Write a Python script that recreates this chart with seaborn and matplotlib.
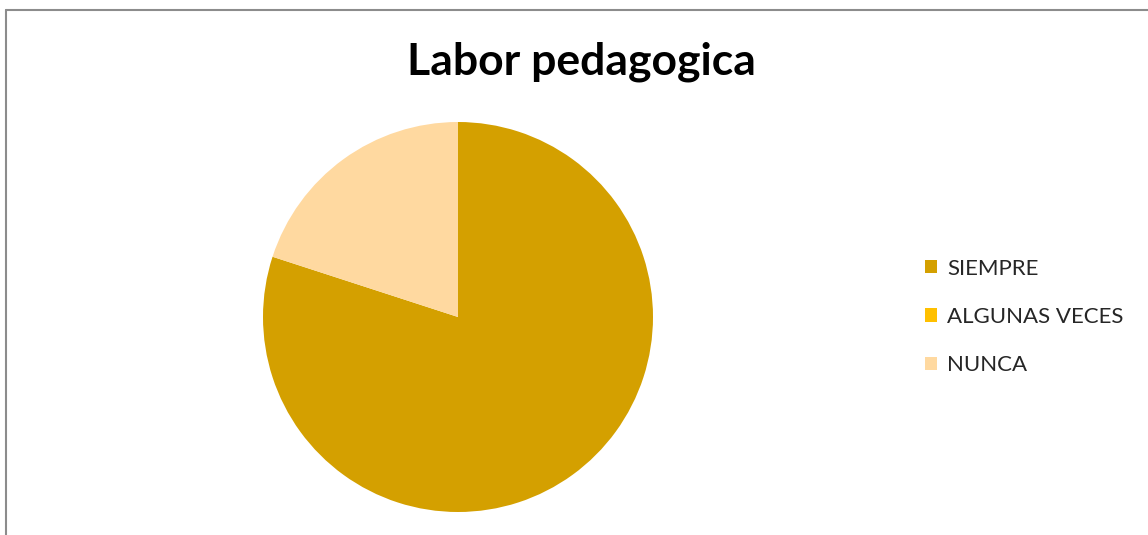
import matplotlib
matplotlib.use("Agg")
import matplotlib.pyplot as plt
import seaborn as sns
from matplotlib.patches import Patch
from matplotlib.lines import Line2D

# Datos del gráfico
categorias = ["SIEMPRE", "ALGUNAS VECES", "NUNCA"]
valores = [80, 0, 20]
colores = ["#D4A000", "#FFC000", "#FFD9A0"]
titulo = "Labor pedagogica"

sns.set_theme(style="white")
plt.rcParams['font.family'] = ['Lato', 'DejaVu Sans']

W, H = 1148, 535
fig = plt.figure(figsize=(W / 100, H / 100), dpi=100)
fig.patch.set_facecolor("white")

# borde del área del gráfico (solo se ven arriba e izquierda)
fig.add_artist(Line2D([5.5 / W, 5.5 / W], [0, 1 - 9.5 / H], color="#8C8C8C", lw=1.5))
fig.add_artist(Line2D([5.5 / W, 1], [1 - 9.5 / H, 1 - 9.5 / H], color="#8C8C8C", lw=1.5))

# pie
cx, cy, r = 458, 317, 195
ax = fig.add_axes([(cx - r) / W, (H - cy - r) / H, 2 * r / W, 2 * r / H])
ax.pie(valores, colors=colores, startangle=90, counterclock=False,
       wedgeprops=dict(linewidth=0))
ax.set_xlim(-1, 1)
ax.set_ylim(-1, 1)
ax.set_aspect("auto")
ax.axis("off")

fig.text(581 / W, 1 - 62 / H, titulo, ha="center", va="center",
         fontsize=32, fontweight="bold", color="black")

handles = [Patch(facecolor=c, edgecolor="none") for c in colores]
leg = fig.legend(handles, categorias, loc="center left",
                 bbox_to_anchor=(905 / W, 1 - 317 / H), frameon=False,
                 fontsize=16, handlelength=0.55, handleheight=0.55,
                 handletextpad=0.45, labelspacing=1.28)

fig.savefig("out.png", dpi=100)
